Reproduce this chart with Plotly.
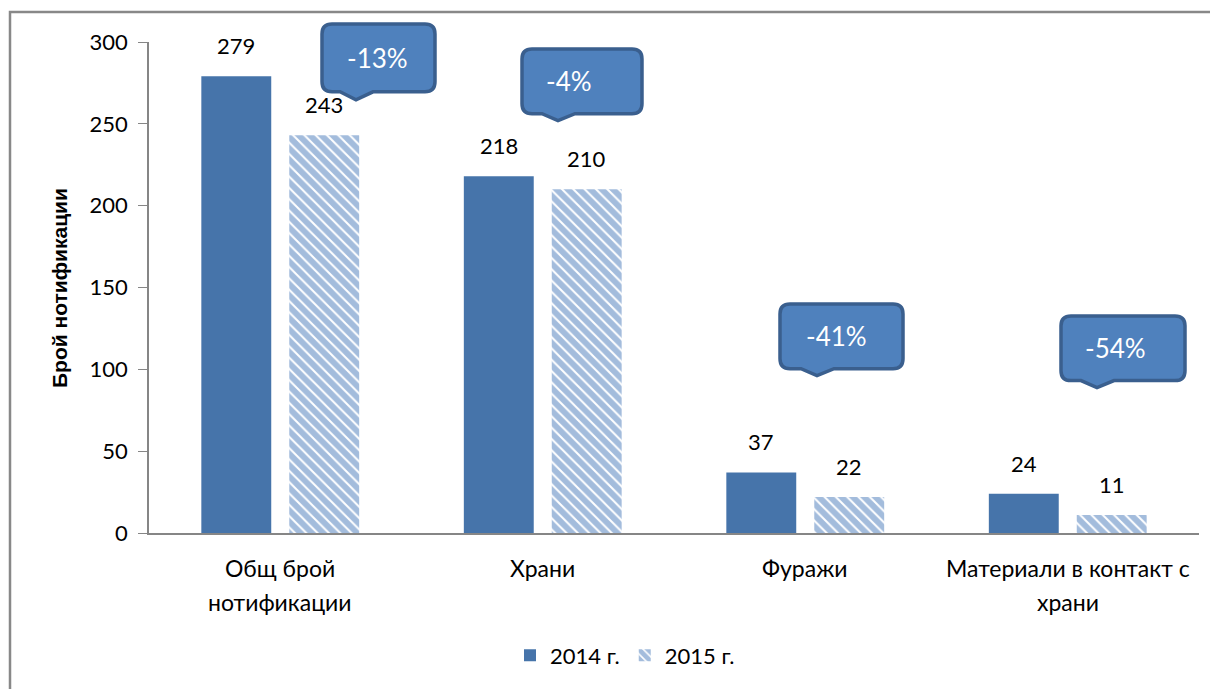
import plotly.graph_objects as go

# ---------------- data ----------------
categories = ["Общ брой<br>нотификации", "Храни", "Фуражи", "Материали в контакт с<br>храни"]
v2014 = [279, 218, 37, 24]
v2015 = [243, 210, 22, 11]
changes = ["-13%", "-4%", "-41%", "-54%"]
series_names = ["2014 г.", "2015 г."]

# ---------------- geometry (reference-screen pixels) ----------------
OFF = 8                     # page body margin
W, H = 1218 - OFF, 689 - OFF
PL, PR, PT, PB = 149, 1199, 42, 535   # plot area in screen pixels
YMAX = 300

def fx(p):
    return (p - PL) / (PR - PL)

def fy(p):
    return (PB - p) / (PB - PT)

# callout boxes: left, top, right, bottom, tip x, tip y, text x (screen pixels)
callout_boxes = [
    (322, 24, 435, 92, 356, 100, 377),
    (522, 49, 642, 114, 558, 121, 569),
    (780, 305, 903, 370, 817, 377, 836),
    (1061, 317, 1185, 382, 1097, 389, 1115),
]

FONT = "Lato"
C2014 = "#4674AA"
CHATCH = "#4779BA"

fig = go.Figure()
fig.add_trace(go.Bar(
    x=categories, y=v2014, name=series_names[0],
    marker=dict(color=C2014, line=dict(width=0)),
))
fig.add_trace(go.Bar(
    x=categories, y=v2015, name=series_names[1],
    marker=dict(color="white", line=dict(width=0),
                pattern=dict(shape="\\", fgcolor=CHATCH, bgcolor="white",
                             size=8, solidity=0.75, fillmode="overlay")),
))

annotations = []
# value labels
for vals, shift in ((v2014, -44), (v2015, 44)):
    for c, v in zip(categories, vals):
        annotations.append(dict(
            x=c, y=v, xref="x", yref="y", text=str(v), showarrow=False,
            xshift=shift, yshift=15, yanchor="bottom",
            font=dict(family=FONT, size=22, color="black"),
        ))

# category labels (wider line spacing than plotly tick labels allow)
for c in categories:
    for i, line in enumerate(c.split("<br>")):
        annotations.append(dict(
            x=c, y=fy(570 + 34 * i), xref="x", yref="paper", text=line,
            showarrow=False, xanchor="center", yanchor="middle",
            font=dict(family=FONT, size=23, color="black"),
        ))

def P(x, y):
    return f"{fx(x):.5f},{fy(y):.5f}"

shapes = []
r = 10
for (l, t, rr, b, tx, ty, txx), lab in zip(callout_boxes, changes):
    bl = tx - 16
    br = tx + 17
    path = (
        f"M {P(l + r, t)} L {P(rr - r, t)} Q {P(rr, t)} {P(rr, t + r)} "
        f"L {P(rr, b - r)} Q {P(rr, b)} {P(rr - r, b)} "
        f"L {P(br, b)} L {P(tx, ty)} L {P(bl, b)} "
        f"L {P(l + r, b)} Q {P(l, b)} {P(l, b - r)} "
        f"L {P(l, t + r)} Q {P(l, t)} {P(l + r, t)} Z"
    )
    shapes.append(dict(type="path", path=path, xref="paper", yref="paper",
                       fillcolor="#4F81BD", line=dict(color="#3A5F8E", width=3.5),
                       layer="above"))
    annotations.append(dict(
        x=fx(txx), y=fy((t + b) / 2), xref="paper", yref="paper", text=lab,
        showarrow=False, xanchor="center", yanchor="middle",
        font=dict(family=FONT, size=26, color="white"),
    ))

# y-axis title
annotations.append(dict(
    x=fx(60), y=fy(289), xref="paper", yref="paper", text="<b>Брой нотификации</b>",
    textangle=-90, showarrow=False, xanchor="center", yanchor="middle",
    font=dict(family="Liberation Sans", size=21, color="black"),
))

# outer chart border
shapes.append(dict(type="rect", xref="paper", yref="paper",
                   x0=fx(10), x1=fx(1225), y0=fy(720), y1=fy(12),
                   line=dict(color="#888888", width=2.5), fillcolor="rgba(0,0,0,0)",
                   layer="below"))

fig.update_layout(
    width=W, height=H,
    margin=dict(l=PL - OFF, r=1218 - PR, t=PT - OFF, b=689 - PB),
    paper_bgcolor="white", plot_bgcolor="white",
    barmode="group", bargap=0.33, bargroupgap=0.205,
    showlegend=True,
    legend=dict(orientation="h", x=fx(625), y=fy(658), xanchor="center", yanchor="middle",
                font=dict(family=FONT, size=22, color="black"), itemwidth=30,
                traceorder="normal"),
    annotations=annotations, shapes=shapes,
    font=dict(family=FONT, color="black"),
)
fig.update_yaxes(range=[0, YMAX], dtick=50, showgrid=False, showline=True,
                 linecolor="#868686", linewidth=1.5, ticks="outside", ticklen=9,
                 tickcolor="#868686", tickfont=dict(family=FONT, size=22, color="black"),
                 ticklabelstandoff=6, zeroline=False)
fig.update_xaxes(showgrid=False, showline=True, linecolor="#868686", linewidth=1.5,
                 ticks="", showticklabels=False)

fig.write_html("out.html")
